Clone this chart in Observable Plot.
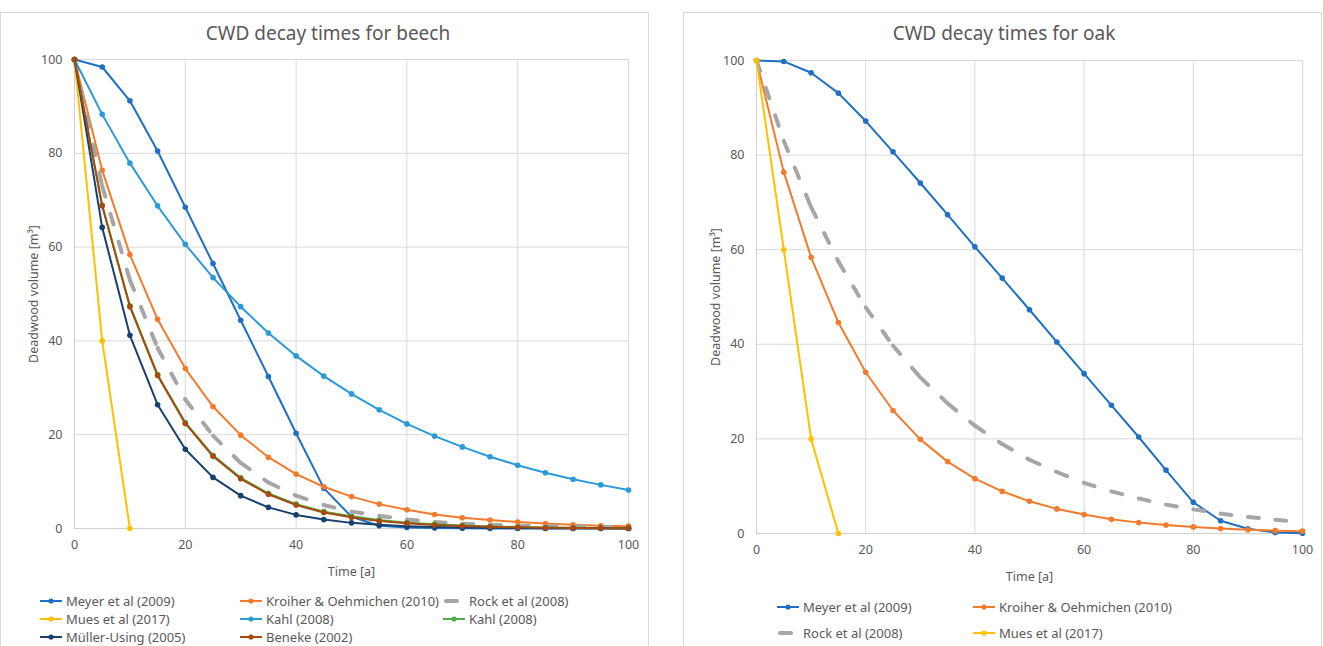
<!DOCTYPE html>
<html><head><meta charset="utf-8">
<script src="https://cdn.jsdelivr.net/npm/d3@7"></script>
<script src="https://cdn.jsdelivr.net/npm/@observablehq/plot@0.6"></script>
<style>
body{margin:0;background:#fff;font-family:"Noto Sans",sans-serif;color:#595959;}
#root{position:relative;width:1323px;height:646px;overflow:hidden;background:#fff;}
.box{position:absolute;border:1px solid #d9d9d9;pointer-events:none;box-sizing:border-box;}
.title{position:absolute;font-size:19px;line-height:22px;text-align:center;color:#595959;white-space:nowrap;}
.item{position:absolute;height:16px;display:flex;align-items:center;font-size:13px;white-space:nowrap;color:#595959;}
.item svg{margin-right:4px;flex:none;}
</style></head>
<body><div id="root"></div>
<script>
// ---- data ----
const years = [0, 5, 10, 15, 20, 25, 30, 35, 40, 45, 50, 55, 60, 65, 70, 75, 80, 85, 90, 95, 100];
const axisTicks = [0, 20, 40, 60, 80, 100];

const beechMeyer   = [100, 98.4, 91.2, 80.5, 68.5, 56.5, 44.4, 32.4, 20.3, 8.6, 2.5, 0.6, 0.2, 0.1, 0.05, 0, 0, 0, 0, 0, 0];
const beechKroiher = [100, 76.4, 58.4, 44.6, 34.1, 26.0, 19.9, 15.2, 11.6, 8.9, 6.8, 5.2, 4.0, 3.0, 2.3, 1.8, 1.4, 1.05, 0.8, 0.6, 0.5];
const beechRock    = [100, 73, 53, 38.5, 27.5, 19.8, 14, 9.8, 7, 5, 3.6, 2.7, 1.9, 1.4, 1.0, 0.8, 0.6, 0.5, 0.4, 0.3, 0.25];
const beechMues    = [100, 40, 0];
const beechKahl    = [100, 88.3, 77.9, 68.8, 60.6, 53.5, 47.3, 41.7, 36.8, 32.5, 28.7, 25.3, 22.3, 19.7, 17.4, 15.3, 13.5, 11.9, 10.5, 9.3, 8.2];
const beechKahl2   = [100, 68.9, 47.5, 32.8, 22.6, 15.6, 10.8, 7.5, 5.2, 3.6, 2.6, 1.8, 1.25, 0.88, 0.62, 0.44, 0.31, 0.22, 0.15, 0.1, 0.07];
const beechMuller  = [100, 64.2, 41.2, 26.4, 16.9, 10.9, 7.0, 4.5, 2.9, 1.9, 1.2, 0.8, 0.5, 0.3, 0.2, 0.14, 0.09, 0.06, 0.04, 0.03, 0.02];
const beechBeneke  = [100, 68.8, 47.3, 32.6, 22.4, 15.4, 10.6, 7.3, 5.0, 3.4, 2.4, 1.6, 1.1, 0.75, 0.52, 0.36, 0.25, 0.17, 0.12, 0.08, 0.05];

const oakMeyer   = [100, 99.8, 97.4, 93.1, 87.2, 80.7, 74.1, 67.4, 60.6, 54.0, 47.3, 40.5, 33.8, 27.1, 20.4, 13.4, 6.6, 2.7, 1.0, 0.2, 0.05];
const oakKroiher = [100, 76.4, 58.4, 44.6, 34.1, 26.0, 19.9, 15.2, 11.6, 8.9, 6.8, 5.2, 4.0, 3.0, 2.3, 1.8, 1.4, 1.05, 0.8, 0.6, 0.5];
const oakRock    = [100, 83, 69, 57.5, 47.8, 39.7, 33, 27.5, 22.8, 18.9, 15.6, 13, 10.7, 8.9, 7.4, 6.1, 5.1, 4.2, 3.5, 2.9, 2.4];
const oakMues    = [100, 60, 20, 0];

const seriesNames  = ["Meyer et al (2009)", "Kroiher & Oehmichen (2010)", "Rock et al (2008)", "Mues et al (2017)", "Kahl (2008)", "Kahl (2008)", "Müller-Using (2005)", "Beneke (2002)"];
const seriesColors = ["#1F6FC4", "#F47A2C", "#A6A6A6", "#FFC000", "#2A9BD8", "#4CAF48", "#17406F", "#A64B0D"];

const titles = ["CWD decay times for beech", "CWD decay times for oak"];
const xTitle = "Time [a]";
const yTitle = "Deadwood volume [m³]";

// ---- build ----
const beechSeries = [beechMeyer, beechKroiher, beechRock, beechMues, beechKahl, beechKahl2, beechMuller, beechBeneke]
  .map((v, i) => ({name: seriesNames[i], color: seriesColors[i], dashed: i === 2, values: v}));
const oakSeries = [oakMeyer, oakKroiher, oakRock, oakMues]
  .map((v, i) => ({name: seriesNames[i], color: seriesColors[i], dashed: i === 2, values: v}));

const root = document.getElementById("root");

function makeChart(series, g) {
  const marks = [
    Plot.gridX(axisTicks, {stroke: "#d9d9d9", strokeOpacity: 1}),
    Plot.gridY(axisTicks, {stroke: "#d9d9d9", strokeOpacity: 1}),
    Plot.ruleX([0], {stroke: "#d0d0d0"}),
    Plot.ruleY([0], {stroke: "#d0d0d0"}),
    Plot.axisX({ticks: axisTicks, tickSize: 0, tickPadding: 12, fontSize: 12.5, fill: "#595959",
      label: xTitle, labelAnchor: "center", labelArrow: "none", labelOffset: g.xLabelOffset}),
    Plot.axisY({ticks: axisTicks, tickSize: 0, tickPadding: 12, fontSize: 12.5, fill: "#595959",
      label: yTitle, labelAnchor: "center", labelArrow: "none", labelOffset: g.yLabelOffset})
  ];
  for (const s of series) {
    const pts = s.values.map((v, i) => ({x: years[i], y: v}));
    if (s.dashed) {
      const segs = pts.slice(1).map((p, i) => ({x1: pts[i].x, y1: pts[i].y, x2: p.x, y2: p.y}));
      marks.push(Plot.link(segs, {x1: "x1", y1: "y1", x2: "x2", y2: "y2", stroke: s.color,
        strokeWidth: 4, strokeDasharray: "11,18", strokeLinecap: "round"}));
    } else {
      marks.push(Plot.line(pts, {x: "x", y: "y", stroke: s.color, strokeWidth: 2}));
      marks.push(Plot.dot(pts, {x: "x", y: "y", fill: s.color, r: 2.8}));
    }
  }
  const svg = Plot.plot({
    width: g.width, height: g.height,
    marginTop: g.mt, marginRight: g.mr, marginBottom: g.mb, marginLeft: g.ml,
    x: {domain: [0, 100]}, y: {domain: [0, 100]},
    style: {background: "transparent", fontFamily: "Noto Sans", fontSize: "13px", color: "#595959", overflow: "visible"},
    marks
  });
  svg.style.position = "absolute";
  svg.style.left = g.left + "px";
  svg.style.top = "0px";
  root.appendChild(svg);
}

function addTitle(text, cx, cy) {
  const d = document.createElement("div");
  d.className = "title";
  d.textContent = text;
  d.style.left = (cx - 200) + "px";
  d.style.width = "400px";
  d.style.top = (cy - 11) + "px";
  root.appendChild(d);
}

function addLegend(s, x, y) {
  const d = document.createElement("div");
  d.className = "item";
  d.style.left = x + "px";
  d.style.top = (y - 8) + "px";
  const ns = "http://www.w3.org/2000/svg";
  const sv = document.createElementNS(ns, "svg");
  sv.setAttribute("width", 22); sv.setAttribute("height", 8);
  const ln = document.createElementNS(ns, "line");
  ln.setAttribute("y1", 4); ln.setAttribute("y2", 4);
  ln.setAttribute("stroke", s.color);
  if (s.dashed) {
    ln.setAttribute("x1", 3); ln.setAttribute("x2", 14);
    ln.setAttribute("stroke-width", 4); ln.setAttribute("stroke-linecap", "round");
  } else {
    ln.setAttribute("x1", 0); ln.setAttribute("x2", 22);
    ln.setAttribute("stroke-width", 2);
  }
  sv.appendChild(ln);
  if (!s.dashed) {
    const c = document.createElementNS(ns, "circle");
    c.setAttribute("cx", 11); c.setAttribute("cy", 4); c.setAttribute("r", 2.6);
    c.setAttribute("fill", s.color);
    sv.appendChild(c);
  }
  d.appendChild(sv);
  const t = document.createElement("span");
  t.textContent = s.name;
  d.appendChild(t);
  root.appendChild(d);
}

function addBox(l, t, w, h) {
  const b = document.createElement("div");
  b.className = "box";
  b.style.left = l + "px"; b.style.top = t + "px";
  b.style.width = w + "px"; b.style.height = h + "px";
  root.appendChild(b);
}

makeChart(beechSeries, {left: 0, width: 649, height: 585, mt: 59, mr: 21, mb: 57, ml: 74, xLabelOffset: 47, yLabelOffset: 45});
makeChart(oakSeries, {left: 683, width: 640, height: 590, mt: 60, mr: 21, mb: 57, ml: 73, xLabelOffset: 47, yLabelOffset: 45});

addTitle(titles[0], 328, 33);
addTitle(titles[1], 1004, 33);

const leftPos = [[40, 601], [240, 601], [443, 601], [40, 619], [240, 619], [443, 619], [40, 637], [240, 637]];
beechSeries.forEach((s, i) => addLegend(s, leftPos[i][0], leftPos[i][1]));
const rightPos = [[777, 607], [973, 607], [777, 633], [973, 633]];
oakSeries.forEach((s, i) => addLegend(s, rightPos[i][0], rightPos[i][1]));

addBox(0, 12, 649, 660);
addBox(683, 12, 639, 660);
</script>
</body></html>
